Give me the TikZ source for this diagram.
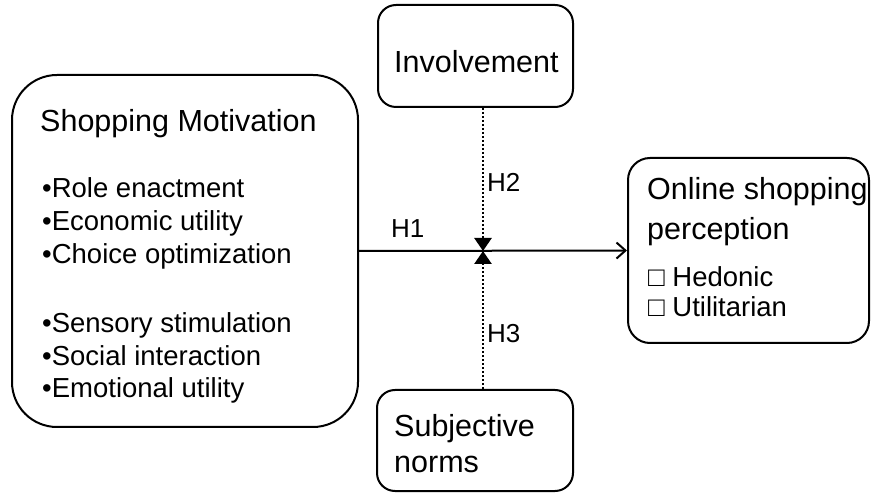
\documentclass[tikz,border=0pt]{standalone}
\usepackage{fontspec}
\setmainfont{Liberation Sans}
\usetikzlibrary{arrows.meta}
\tikzset{
  box/.style={draw, line width=2pt, inner sep=0pt},
  ttl/.style={anchor=base west, inner sep=0pt, font=\fontsize{30.5}{35}\selectfont},
  itm/.style={anchor=base west, inner sep=0pt, font=\fontsize{27.5}{33}\selectfont},
  hlab/.style={anchor=base west, inner sep=0pt, font=\fontsize{26}{30}\selectfont},
  solidarrow/.style={line width=2pt, -{Straight Barb[length=9pt,width=16pt,line width=2pt]}},
  dotarrow/.style={line width=2.6pt, dash pattern=on 2.2pt off 1.8pt, -{Triangle[length=13pt,width=17pt]}}
}
\begin{document}
\begin{tikzpicture}[x=1pt,y=-1pt]
\useasboundingbox (0,0) rectangle (871,494);
% boxes
\node[box, rounded corners=45pt, minimum width=346pt, minimum height=352pt] (mot) at (185,251) {};
\node[box, rounded corners=18pt, minimum width=195pt, minimum height=102pt] (inv) at (475.5,56) {};
\node[box, rounded corners=18pt, minimum width=196pt, minimum height=101pt] (sub) at (475,440.5) {};
\node[box, rounded corners=22pt, minimum width=241pt, minimum height=185pt] (onl) at (748.5,250.5) {};
% texts
\node[ttl] (motT) at (40,132) {Shopping Motivation};
\node[itm] (m1) at (42,198) {•Role enactment};
\node[itm] (m2) at (42,231) {•Economic utility};
\node[itm] (m3) at (42,264) {•Choice optimization};
\node[itm] (m4) at (42,333) {•Sensory stimulation};
\node[itm] (m5) at (42,366) {•Social interaction};
\node[itm] (m6) at (42,398) {•Emotional utility};
\node[ttl] (invT) at (394,73) {Involvement};
\node[ttl] (subT1) at (394,437) {Subjective};
\node[ttl] (subT2) at (394,472) {norms};
\node[ttl] (onT1) at (647,200) {Online shopping};
\node[ttl] (onT2) at (647,240) {perception};
\node[itm] (on1) at (648,287) {□ Hedonic};
\node[itm] (on2) at (648,317) {□ Utilitarian};
\node[hlab] (h1) at (391,238) {H1};
\node[hlab] (h2) at (487,192) {H2};
\node[hlab] (h3) at (487,343) {H3};
% connectors
\coordinate (cross) at (483,251);
\draw[solidarrow] (mot.east) -- (onl.west);
\draw[dotarrow] (inv.south -| cross) -- (cross);
\draw[dotarrow] (sub.north -| cross) -- (cross);
\end{tikzpicture}
\end{document}
